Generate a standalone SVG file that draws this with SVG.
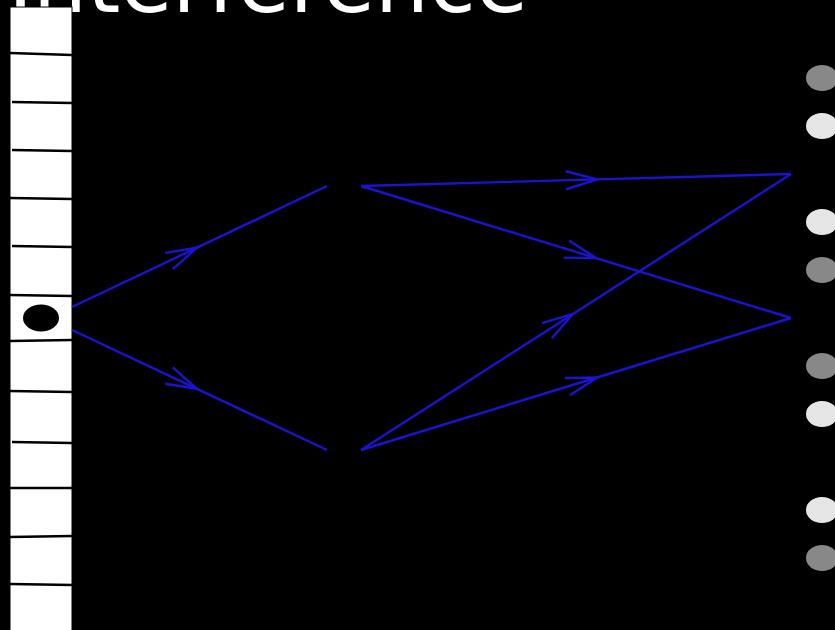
<svg xmlns="http://www.w3.org/2000/svg" width="835" height="630" viewBox="0 0 835 630">
<defs>
<style>
.title{font-family:"DejaVu Sans",sans-serif;font-size:85px;fill:#ffffff}
.cell{stroke:#000;stroke-width:2.5;fill:none}
.conn{stroke:#1a14d2;stroke-width:2.4;fill:none;marker-mid:url(#arr)}
.grey{fill:#888888}
.white{fill:#e6e6e6}
</style>
<marker id="arr" markerUnits="userSpaceOnUse" orient="auto" markerWidth="40" markerHeight="30" viewBox="-36 -15 40 30" refX="0" refY="0" overflow="visible">
<path d="M-31,-9 L0,0 L-31,9" fill="none" stroke="#1a14d2" stroke-width="2.4"/>
</marker>
</defs>
<rect width="835" height="630" fill="#000"/>
<text class="title" x="8" y="12">Interference</text>
<g id="strip">
<rect x="10" y="7" width="62" height="630" fill="#fff" stroke="#000" stroke-width="1"/>
<path class="cell" d="M10,53 L72,55 M12,102 L72,103 M12,150 L72,151 M10,198 L72,199 M12,246 L72,247 M10,295 L72,296 M10,341 L72,340 M10,391 L72,392 M12,442 L72,443 M10,488 L72,488 M10,537 L72,536 M10,584 L72,585"/>
</g>
<g id="particle">
<ellipse cx="41" cy="318" rx="18" ry="13.5" fill="#000"/>
</g>
<g id="connectors">
<path class="conn" d="M72,307 L197,247.7 L327,186"/>
<path class="conn" d="M72,330 L197,388.8 L327,450"/>
<path class="conn" d="M361,186 L597,179.4 L791,174"/>
<path class="conn" d="M361,186 L596,258.1 L791,318"/>
<path class="conn" d="M361,450 L573,313.9 L791,174"/>
<path class="conn" d="M361,450 L597,377.5 L791,318"/>
</g>
<g id="screen">
<ellipse class="grey" cx="822" cy="78" rx="16" ry="13"/>
<ellipse class="white" cx="822" cy="126" rx="16" ry="13"/>
<ellipse class="white" cx="822" cy="222" rx="16" ry="13"/>
<ellipse class="grey" cx="822" cy="270" rx="16" ry="13"/>
<ellipse class="grey" cx="822" cy="366" rx="16" ry="13"/>
<ellipse class="white" cx="822" cy="414" rx="16" ry="13"/>
<ellipse class="white" cx="822" cy="510" rx="16" ry="13"/>
<ellipse class="grey" cx="822" cy="558" rx="16" ry="13"/>
</g>
</svg>
